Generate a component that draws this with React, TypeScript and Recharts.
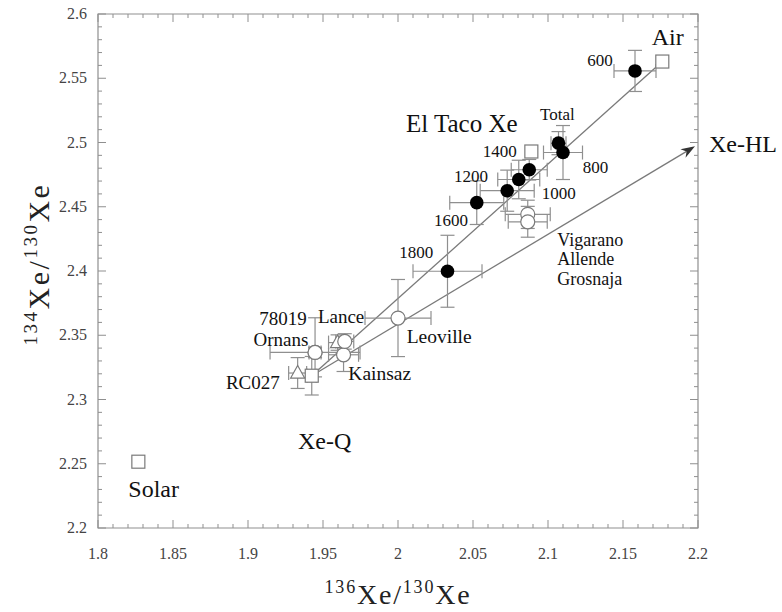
import React from "react";
import {
  ScatterChart,
  Scatter,
  XAxis,
  YAxis,
  ErrorBar,
  ReferenceLine,
  ReferenceArea,
} from "recharts";

const FONT = '"Liberation Serif", "Times New Roman", serif';
const GREY = "#8f8f8f";
const LINE = "#7a7a7a";

// plot box in page pixels (chart sits at 0,0)
const PLOT = { left: 98, right: 698, top: 14, bottom: 528 };

const xMajor = [1.8, 1.85, 1.9, 1.95, 2, 2.05, 2.1, 2.15, 2.2];
const yMajor = [2.2, 2.25, 2.3, 2.35, 2.4, 2.45, 2.5, 2.55, 2.6];

// El Taco step heating (°C) and total, filled circles
const elTaco = [
  { name: "600", x: 2.158, y: 2.5557, ex: 0.014, ey: 0.016 },
  { name: "Total", x: 2.107, y: 2.4995, ex: 0.005, ey: 0.009 },
  { name: "800", x: 2.11, y: 2.4922, ex: 0.013, ey: 0.021 },
  { name: "1000", x: 2.0875, y: 2.4788, ex: 0.012, ey: 0.008 },
  { name: "1200", x: 2.0805, y: 2.4712, ex: 0.014, ey: 0.015 },
  { name: "1400", x: 2.0728, y: 2.4625, ex: 0.018, ey: 0.016 },
  { name: "1600", x: 2.0525, y: 2.4532, ex: 0.018, ey: 0.017 },
  { name: "1800", x: 2.033, y: 2.3998, ex: 0.023, ey: 0.028 },
];

// end members without error bars (open squares)
const endMembers = [
  { name: "Air", x: 2.1762, y: 2.563 },
  { name: "Solar", x: 1.8269, y: 2.2516 },
  { name: "El Taco bulk", x: 2.0889, y: 2.493 },
];

const xeQ = [{ name: "Xe-Q", x: 1.9425, y: 2.3185, ex: 0.003, ey: 0.015 }];
const xeHL = { x: 2.198, y: 2.497 };

// carbonaceous chondrites, open circles
const meteorites = [
  { name: "Vigarano", x: 2.0865, y: 2.4441, ex: 0.015, ey: 0.011 },
  { name: "Allende", x: 2.0865, y: 2.4383, ex: 0.013, ey: 0.012 },
  { name: "Leoville", x: 2.0, y: 2.3634, ex: 0.022, ey: 0.03 },
  { name: "Ornans", x: 1.9447, y: 2.3366, ex: 0.03, ey: 0.004 },
  { name: "78019", x: 1.9447, y: 2.3366, ex: 0.004, ey: [0.019, 0.027] },
  { name: "Kainsaz", x: 1.9637, y: 2.3348, ex: 0.01, ey: 0.013 },
  { name: "Lance", x: 1.9645, y: 2.3452, ex: 0.006, ey: 0.006 },
];

// open triangles
const triangles = [
  { name: "Lance", x: 1.9597, y: 2.3443, ex: 0.006, ey: 0.006 },
  { name: "RC027", x: 1.9331, y: 2.3206, ex: 0.006, ey: 0.012 },
];

// text annotations anchored in data space
const notes = [
  { text: "Air", x: 2.1691, y: 2.576, size: 24 },
  { text: "600", x: 2.1262, y: 2.5598, size: 17 },
  { text: "Total", x: 2.0947, y: 2.5175, size: 17 },
  { text: "El Taco Xe", x: 2.0053, y: 2.5079, size: 25 },
  { text: "1400", x: 2.0565, y: 2.489, size: 17 },
  { text: "800", x: 2.1231, y: 2.4765, size: 17 },
  { text: "1200", x: 2.0373, y: 2.4695, size: 17 },
  { text: "1000", x: 2.0958, y: 2.4558, size: 17 },
  { text: "1600", x: 2.024, y: 2.435, size: 17 },
  { text: "1800", x: 2.0009, y: 2.4099, size: 17 },
  { text: "Xe-HL", x: 2.2, y: 2.4927, size: 24, dx: 11 },
  { text: "Vigarano", x: 2.1062, y: 2.4197, size: 18 },
  { text: "Allende", x: 2.1062, y: 2.4044, size: 18 },
  { text: "Grosnaja", x: 2.1062, y: 2.3893, size: 18 },
  { text: "Leoville", x: 2.0058, y: 2.3437, size: 19.5 },
  { text: "78019", x: 1.9075, y: 2.358, size: 19 },
  { text: "Lance", x: 1.9466, y: 2.3593, size: 19 },
  { text: "Ornans", x: 1.9037, y: 2.3415, size: 19 },
  { text: "RC027", x: 1.8853, y: 2.3079, size: 19 },
  { text: "Kainsaz", x: 1.9669, y: 2.3152, size: 19.5 },
  { text: "Xe-Q", x: 1.9333, y: 2.2615, size: 24 },
  { text: "Solar", x: 1.8202, y: 2.2244, size: 24 },
];

// major ticks plus 4 minor ticks in between
const withMinor = (major: number[]) => {
  const out: number[] = [];
  major.forEach((v, i) => {
    out.push(v);
    if (i < major.length - 1) {
      for (let k = 1; k < 5; k++) {
        out.push(Math.round((v + ((major[i + 1] - v) * k) / 5) * 1000) / 1000);
      }
    }
  });
  return out;
};
const xTicks = withMinor(xMajor);
const yTicks = withMinor(yMajor);
const isMajor = (v: number) => Math.abs(v * 20 - Math.round(v * 20)) < 1e-6;

const XTick = (props: any) => {
  const { x, payload } = props;
  const major = isMajor(payload.value);
  const len = major ? 8 : 4;
  return (
    <g>
      <line x1={x} x2={x} y1={PLOT.bottom} y2={PLOT.bottom - len} stroke={GREY} />
      <line x1={x} x2={x} y1={PLOT.top} y2={PLOT.top + len} stroke={GREY} />
      {major && (
        <text x={x} y={PLOT.bottom + 31} textAnchor="middle" fontFamily={FONT} fontSize={16} fill="#444">
          {String(payload.value)}
        </text>
      )}
    </g>
  );
};

const YTick = (props: any) => {
  const { y, payload } = props;
  const major = isMajor(payload.value);
  const len = major ? 8 : 4;
  return (
    <g>
      <line x1={PLOT.left} x2={PLOT.left + len} y1={y} y2={y} stroke={GREY} />
      <line x1={PLOT.right} x2={PLOT.right - len} y1={y} y2={y} stroke={GREY} />
      {major && (
        <text x={PLOT.left - 11} y={y + 5} textAnchor="end" fontFamily={FONT} fontSize={16} fill="#444">
          {String(payload.value)}
        </text>
      )}
    </g>
  );
};

const XTitle = () => (
  <text x={(PLOT.left + PLOT.right) / 2} y={604} textAnchor="middle" fontFamily={FONT} fill="#222" letterSpacing={1.8}>
    <tspan fontSize={18} dy={-11}>136</tspan>
    <tspan fontSize={28} dy={11}>Xe/</tspan>
    <tspan fontSize={18} dy={-11}>130</tspan>
    <tspan fontSize={28} dy={11}>Xe</tspan>
  </text>
);

const YTitle = () => (
  <text
    transform="translate(49, 264) rotate(-90)"
    x={0}
    y={0}
    textAnchor="middle"
    fontFamily={FONT}
    fill="#222"
    letterSpacing={2.5}
  >
    <tspan fontSize={19} dy={-12}>134</tspan>
    <tspan fontSize={30} dy={12}>Xe/</tspan>
    <tspan fontSize={19} dy={-12}>130</tspan>
    <tspan fontSize={30} dy={12}>Xe</tspan>
  </text>
);

const FilledDot = (p: any) => <circle cx={p.cx} cy={p.cy} r={6.8} fill="#000" />;
const OpenDot = (p: any) => (
  <circle cx={p.cx} cy={p.cy} r={7} fill="#fff" stroke={LINE} strokeWidth={1.2} />
);
const OpenSquare = (p: any) => (
  <rect x={p.cx - 6.5} y={p.cy - 6.5} width={13} height={13} fill="#fff" stroke={LINE} strokeWidth={1.2} />
);
const OpenTriangle = (p: any) => (
  <polygon
    points={`${p.cx},${p.cy - 7.5} ${p.cx + 7},${p.cy + 5} ${p.cx - 7},${p.cy + 5}`}
    fill="#fff"
    stroke={LINE}
    strokeWidth={1.2}
  />
);
const NoteText = (p: any) => (
  <text
    x={p.cx + (p.payload.dx || 0)}
    y={p.cy}
    fontFamily={FONT}
    fontSize={p.payload.size}
    fill="#111"
  >
    {p.payload.text}
  </text>
);

const ArrowLine = (p: any) => {
  const { x1, y1, x2, y2 } = p;
  const a = Math.atan2(y2 - y1, x2 - x1);
  const c = Math.cos(a);
  const s = Math.sin(a);
  const L = 14;
  const W = 5;
  const bx = x2 - L * c;
  const by = y2 - L * s;
  const nx = x2 - L * 0.7 * c;
  const ny = y2 - L * 0.7 * s;
  return (
    <g>
      <line x1={x1} y1={y1} x2={nx} y2={ny} stroke={LINE} strokeWidth={1.3} />
      <polygon
        points={`${x2},${y2} ${bx - W * s},${by + W * c} ${nx},${ny} ${bx + W * s},${by - W * c}`}
        fill="#333"
      />
    </g>
  );
};

const bars = (ex = "ex", ey = "ey") => [
  <ErrorBar key="ex" dataKey={ex} direction="x" width={7} stroke={GREY} strokeWidth={1.2} isAnimationActive={false} />,
  <ErrorBar key="ey" dataKey={ey} direction="y" width={7} stroke={GREY} strokeWidth={1.2} isAnimationActive={false} />,
];

export default function App() {
  const q = xeQ[0];
  const air = endMembers[0];
  return (
    <div style={{ position: "absolute", left: 0, top: 0, background: "#fff" }}>
      <ScatterChart
        width={782}
        height={612}
        margin={{ top: PLOT.top, right: 782 - PLOT.right, bottom: 24, left: 0 }}
      >
        <XAxis
          type="number"
          dataKey="x"
          domain={[1.8, 2.2]}
          ticks={xTicks}
          interval={0}
          tick={XTick}
          tickLine={false}
          axisLine={false}
          height={60}
          label={XTitle}
        />
        <YAxis
          type="number"
          dataKey="y"
          domain={[2.2, 2.6]}
          ticks={yTicks}
          interval={0}
          tick={YTick}
          tickLine={false}
          axisLine={false}
          width={PLOT.left}
          label={YTitle}
        />
        <ReferenceArea x1={1.8} x2={2.2} y1={2.2} y2={2.6} fill="none" stroke={GREY} strokeWidth={1.2} />
        <ReferenceLine
          segment={[{ x: q.x, y: q.y }, { x: air.x, y: air.y }]}
          stroke={LINE}
          strokeWidth={1.3}
        />
        <ReferenceLine
          segment={[{ x: q.x, y: q.y }, { x: xeHL.x, y: xeHL.y }]}
          shape={ArrowLine}
        />
        <Scatter data={triangles} shape={OpenTriangle} isAnimationActive={false}>
          {bars()}
        </Scatter>
        <Scatter data={meteorites} shape={OpenDot} isAnimationActive={false}>
          {bars()}
        </Scatter>
        <Scatter data={xeQ} shape={OpenSquare} isAnimationActive={false}>
          {bars()}
        </Scatter>
        <Scatter data={endMembers} shape={OpenSquare} isAnimationActive={false} />
        <Scatter data={elTaco} shape={FilledDot} isAnimationActive={false}>
          {bars()}
        </Scatter>
        <Scatter data={notes} shape={NoteText} isAnimationActive={false} />
      </ScatterChart>
    </div>
  );
}
